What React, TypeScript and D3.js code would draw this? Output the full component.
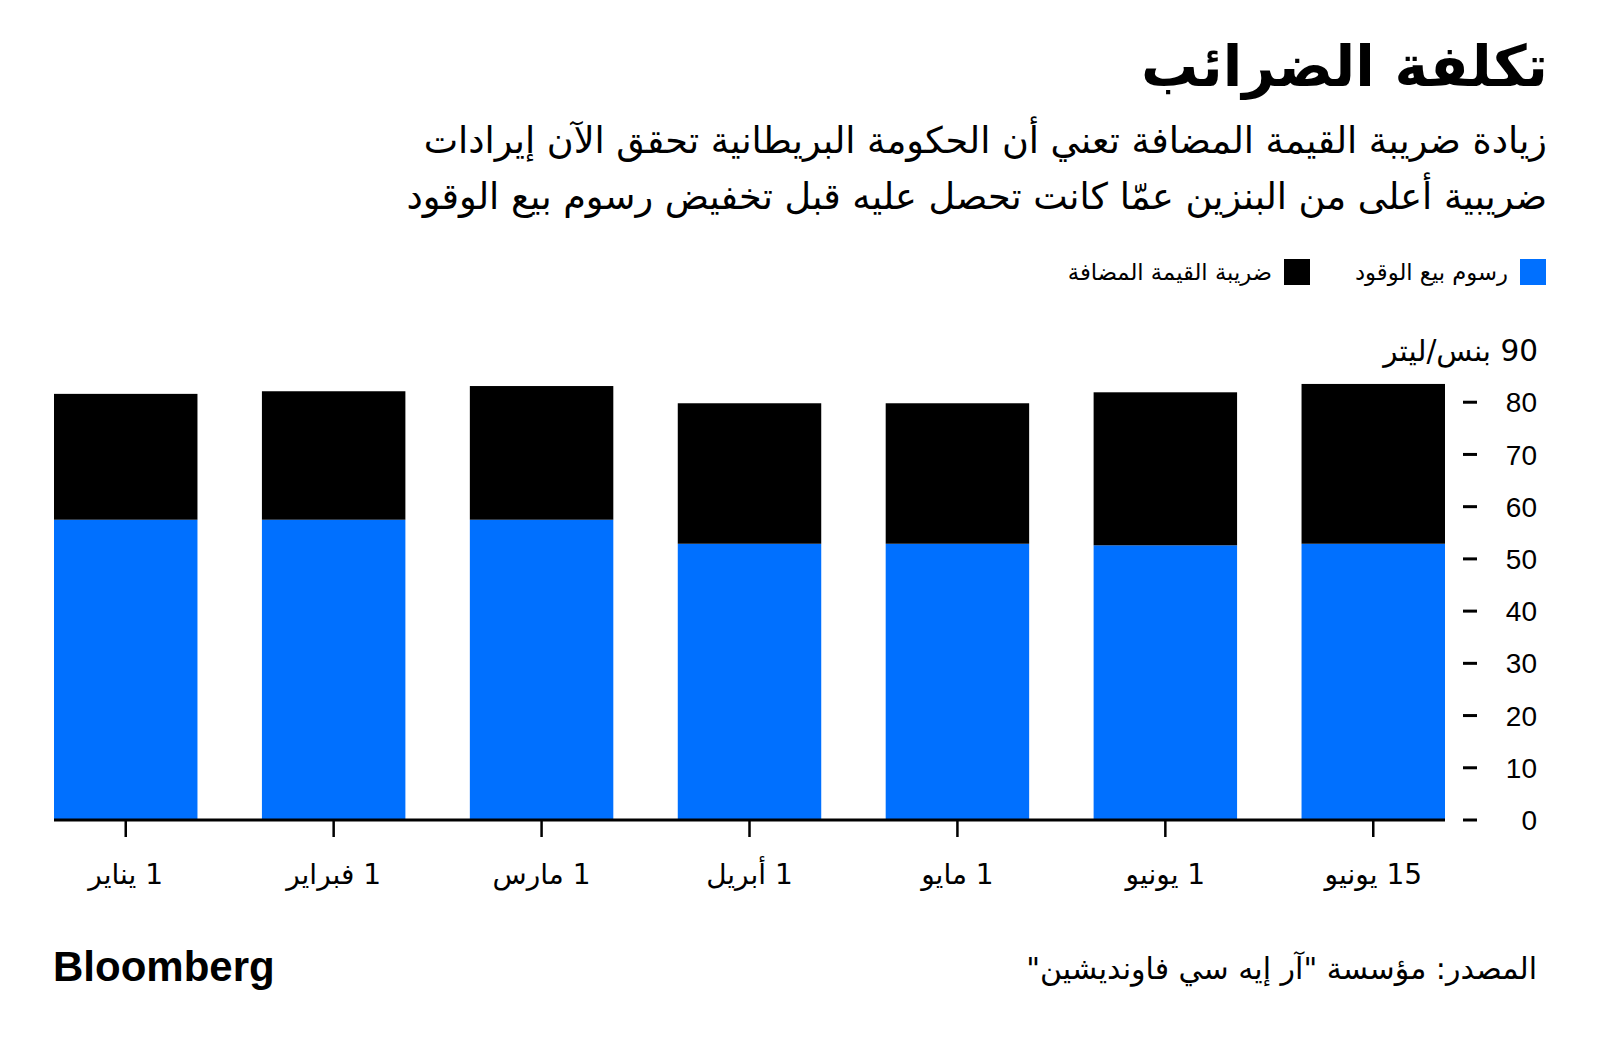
import React from "react";
import * as d3 from "d3";

// chart data
const categories = ["1 يناير", "1 فبراير", "1 مارس", "1 أبريل", "1 مايو", "1 يونيو", "15 يونيو"];
const fuelDuty = [57.5, 57.5, 57.5, 52.9, 52.9, 52.6, 52.9];
const vat = [24.1, 24.6, 25.6, 26.9, 26.9, 29.3, 30.6];
const yTicks = [0, 10, 20, 30, 40, 50, 60, 70, 80];
const seriesKeys = ["fuel", "vat"];
const seriesNames = ["رسوم بيع الوقود", "ضريبة القيمة المضافة"];
const seriesColors = ["#0070ff", "#000000"];

const title = "تكلفة الضرائب";
const subtitle = [
  "زيادة ضريبة القيمة المضافة تعني أن الحكومة البريطانية تحقق الآن إيرادات",
  "ضريبية أعلى من البنزين عمّا كانت تحصل عليه قبل تخفيض رسوم بيع الوقود",
];
const unitLabel = "90 بنس/ليتر";
const source = 'المصدر: مؤسسة "آر إيه سي فاوندیشين"';

const W = 1600;
const H = 1048;
const arabic = "'DejaVu Sans', sans-serif";
const latin = "'Liberation Sans', Arial, sans-serif";

export default function App() {
  const rows = categories.map((c, i) => ({ cat: c, fuel: fuelDuty[i], vat: vat[i] }));
  const stacked = d3.stack<any>().keys(seriesKeys)(rows);

  const x = d3.scaleBand().domain(categories).range([54, 1445]).paddingInner(0.31).paddingOuter(0);
  const y = d3.scaleLinear().domain([0, 90]).range([820, 350]);

  return (
    <svg width={W} height={H} style={{ position: "absolute", left: 0, top: 0, background: "#fff" }}>
      <rect width={W} height={H} fill="#fff" />

      {/* heading */}
      <text x={1548} y={86} direction="rtl" textAnchor="start" fontFamily={arabic} fontWeight="bold" fontSize={57}>
        {title}
      </text>
      {subtitle.map((line, i) => (
        <text key={i} x={1547} y={153 + i * 56} direction="rtl" textAnchor="start" fontFamily={arabic} fontSize={36.6}>
          {line}
        </text>
      ))}

      {/* legend */}
      {seriesNames.map((name, i) => {
        const right = i === 0 ? 1546 : 1310;
        return (
          <g key={name}>
            <rect x={right - 26} y={259} width={26} height={26} fill={seriesColors[i]} />
            <text x={right - 38} y={280} direction="rtl" textAnchor="start" fontFamily={arabic} fontSize={22.7}>
              {name}
            </text>
          </g>
        );
      })}

      {/* bars */}
      {stacked.map((s, si) => (
        <g key={s.key} fill={seriesColors[si]}>
          {s.map((d, i) => (
            <rect
              key={i}
              x={x(categories[i])}
              y={y(d[1])}
              width={x.bandwidth()}
              height={y(d[0]) - y(d[1])}
            />
          ))}
        </g>
      ))}

      {/* x axis */}
      <line x1={x.range()[0]} x2={x.range()[1]} y1={y(0)} y2={y(0)} stroke="#000" strokeWidth={3} />
      {categories.map((c) => {
        const cx = (x(c) as number) + x.bandwidth() / 2;
        return (
          <g key={c}>
            <line x1={cx} x2={cx} y1={y(0)} y2={y(0) + 17} stroke="#000" strokeWidth={2.5} />
            <text x={cx} y={884} direction="rtl" textAnchor="middle" fontFamily={arabic} fontSize={28}>
              {c}
            </text>
          </g>
        );
      })}

      {/* y axis, on the right */}
      {yTicks.map((t) => (
        <g key={t}>
          <line x1={1463} x2={1477} y1={y(t)} y2={y(t)} stroke="#000" strokeWidth={3} />
          <text x={1537} y={y(t)} dy="0.36em" textAnchor="end" fontFamily={latin} fontSize={28}>
            {t}
          </text>
        </g>
      ))}
      <text x={1538} y={y(90)} dy="0.36em" direction="rtl" textAnchor="start" fontFamily={arabic} fontSize={29.5}>
        {unitLabel}
      </text>

      {/* footer */}
      <text x={53} y={981} fontFamily={latin} fontWeight="bold" fontSize={42}>
        Bloomberg
      </text>
      <text x={1537} y={979} direction="rtl" textAnchor="start" fontFamily={arabic} fontSize={30}>
        {source}
      </text>
    </svg>
  );
}
